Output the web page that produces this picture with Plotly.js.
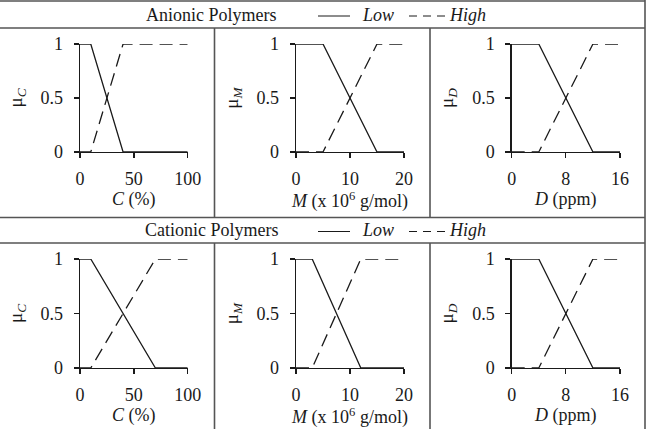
<!DOCTYPE html>
<html>
<head>
<meta charset="utf-8">
<script src="https://cdn.plot.ly/plotly-3.0.1.min.js"></script>
<style>html,body{margin:0;padding:0;background:#fff;}#chart{width:650px;height:429px;}</style>
</head>
<body>
<div id="chart"></div>
<script>
// ---- data ----
var groups = ["Anionic Polymers", "Cationic Polymers"];
var seriesNames = ["Low", "High"];
var anionicC_x = [0, 10, 40, 100];
var anionicM_x = [0, 5, 15, 20];
var anionicD_x = [0, 4, 12, 16];
var cationicC_x = [0, 10, 70, 100];
var cationicM_x = [0, 3, 12, 20];
var cationicD_x = [0, 4, 12, 16];
var lowValues = [1, 1, 0, 0];
var highValues = [0, 0, 1, 1];
var cTicks = [0, 50, 100];
var mTicks = [0, 10, 20];
var dTicks = [0, 8, 16];
var yTicks = [0, 0.5, 1];
var xTitles = ["<i>C</i> (%)", "<i>M</i> (x 10<sup>6</sup> g/mol)", "<i>D</i> (ppm)"];
var yTitles = ["μ<sub><i>C</i></sub>", "μ<sub><i>M</i></sub>", "μ<sub><i>D</i></sub>"];

// ---- layout helpers ----
var W = 650, H = 429;
function px(x) { return x / W; }
function py(y) { return 1 - y / H; }
var FONT = "Liberation Serif, Times New Roman, serif";
var FS = 18;
var INK = "#1a1a1a";
var BORDER = "#555";

var panelXs = [anionicC_x, anionicM_x, anionicD_x, cationicC_x, cationicM_x, cationicD_x];
var panelTicks = [cTicks, mTicks, dTicks];
var colDomains = [[80, 187.7], [296, 404], [511.7, 620]];
var rowDomains = [[44, 152], [259, 368]];

var traces = [];
var layout = {
  width: W, height: H,
  margin: {l: 0, r: 0, t: 0, b: 0},
  paper_bgcolor: "#fff", plot_bgcolor: "rgba(0,0,0,0)",
  showlegend: false,
  font: {family: FONT, size: FS, color: INK},
  shapes: [], annotations: []
};

for (var i = 0; i < 6; i++) {
  var row = Math.floor(i / 3), col = i % 3;
  var n = i + 1;
  var xa = n === 1 ? "x" : "x" + n, ya = n === 1 ? "y" : "y" + n;
  var xs = panelXs[i];
  traces.push({x: xs, y: lowValues, xaxis: xa, yaxis: ya, type: "scatter", mode: "lines",
    name: seriesNames[0], cliponaxis: false, line: {color: INK, width: 1.3}});
  traces.push({x: xs, y: highValues, xaxis: xa, yaxis: ya, type: "scatter", mode: "lines",
    name: seriesNames[1], cliponaxis: false, line: {color: INK, width: 1.3, dash: "13px,7px"}});
  var tv = panelTicks[col];
  layout["xaxis" + (n === 1 ? "" : n)] = {
    domain: [px(colDomains[col][0]), px(colDomains[col][1])],
    anchor: ya, range: [tv[0], tv[2]], tickvals: tv, ticktext: tv.map(String),
    showline: true, linecolor: INK, linewidth: 1.3, ticks: "outside", ticklen: 5,
    tickwidth: 1.3, tickcolor: INK, showgrid: false, zeroline: false,
    ticklabelstandoff: 5, tickfont: {family: FONT, size: FS, color: INK},
    title: {text: xTitles[col], font: {family: FONT, size: FS, color: INK}, standoff: 0}
  };
  layout["yaxis" + (n === 1 ? "" : n)] = {
    domain: [py(rowDomains[row][1]), py(rowDomains[row][0])],
    anchor: xa, range: [0, 1], tickvals: yTicks, ticktext: ["0", "0.5", "1"],
    showline: true, linecolor: INK, linewidth: 1.3, ticks: "outside", ticklen: 5,
    tickwidth: 1.3, tickcolor: INK, showgrid: false, zeroline: false,
    ticklabelstandoff: 7, tickfont: {family: FONT, size: FS, color: INK},
    title: {text: yTitles[col], font: {family: FONT, size: FS + 1, color: INK}, standoff: 13}
  };
}

// ---- table frame ----
function hline(y, x0, x1) {
  layout.shapes.push({type: "line", xref: "paper", yref: "paper", x0: px(x0), x1: px(x1),
    y0: py(y), y1: py(y), line: {color: BORDER, width: 1.6}});
}
function vline(x, y0, y1) {
  layout.shapes.push({type: "line", xref: "paper", yref: "paper", x0: px(x), x1: px(x),
    y0: py(y0), y1: py(y1), line: {color: BORDER, width: 1.6}});
}
hline(1, 0, 645); hline(28, 0, 645); hline(217.5, 0, 645); hline(243, 0, 645);
vline(645, 0, 429);
vline(214.5, 28, 217.5); vline(430, 28, 217.5);
vline(214.5, 243, 429); vline(430, 243, 429);

// ---- group headers with legend keys ----
var headerY = [15, 230.5];
for (var g = 0; g < 2; g++) {
  var hy = headerY[g];
  layout.annotations.push({xref: "paper", yref: "paper", x: px(212), y: py(hy), text: groups[g],
    showarrow: false, xanchor: "center", yanchor: "middle", font: {family: FONT, size: FS, color: INK}});
  layout.shapes.push({type: "line", xref: "paper", yref: "paper", x0: px(318), x1: px(350),
    y0: py(hy + 1), y1: py(hy + 1), line: {color: INK, width: 1}});
  layout.annotations.push({xref: "paper", yref: "paper", x: px(360), y: py(hy), text: "<i>" + seriesNames[0] + "</i>",
    showarrow: false, xanchor: "left", yanchor: "middle", font: {family: FONT, size: FS, color: INK}});
  layout.shapes.push({type: "line", xref: "paper", yref: "paper", x0: px(409), x1: px(445),
    y0: py(hy + 1), y1: py(hy + 1), line: {color: INK, width: 1, dash: "8px,6px"}});
  layout.annotations.push({xref: "paper", yref: "paper", x: px(447), y: py(hy), text: "<i>" + seriesNames[1] + "</i>",
    showarrow: false, xanchor: "left", yanchor: "middle", font: {family: FONT, size: FS, color: INK}});
}

Plotly.newPlot("chart", traces, layout, {staticPlot: true, displayModeBar: false});
</script>
</body>
</html>
